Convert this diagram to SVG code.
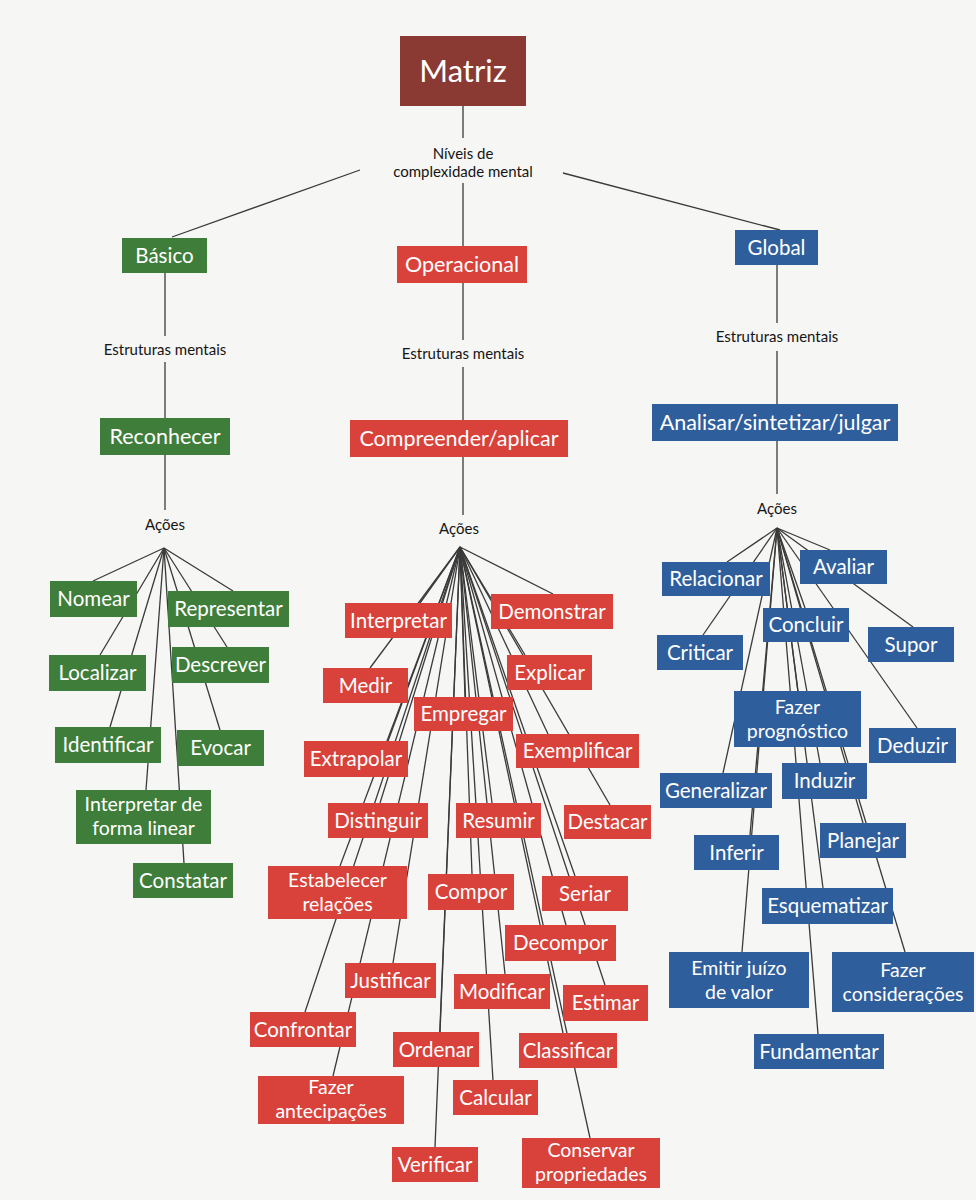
<svg xmlns="http://www.w3.org/2000/svg" width="976" height="1200" viewBox="0 0 976 1200">
<style>
.bg{fill:#f6f6f4}
.c line{stroke:#3a3a3a;stroke-width:1.3}
.g rect{fill:#3f7e3a}
.r rect{fill:#d9423b}
.b rect{fill:#2f5e9c}
.m rect{fill:#8b3a33}
.t{font-family:Lato,"Open Sans","Liberation Sans",sans-serif;font-size:20.5px;fill:#ffffff;text-anchor:middle}
.t2{font-size:19.5px}
.big{font-size:21.5px}
.l{font-family:Lato,"Open Sans","Liberation Sans",sans-serif;font-size:15px;fill:#151515;text-anchor:middle}
</style>
<rect class="bg" x="0" y="0" width="976" height="1200"/>
<g id="connectors" class="c">
<line x1="463" y1="106" x2="463" y2="138"/>
<line x1="360" y1="170" x2="172" y2="237"/>
<line x1="563" y1="173" x2="780" y2="230"/>
<line x1="463" y1="183" x2="463" y2="246"/>
<line x1="165" y1="273" x2="165" y2="336"/>
<line x1="165" y1="362" x2="165" y2="418"/>
<line x1="165" y1="455" x2="165" y2="510"/>
<line x1="463" y1="283" x2="463" y2="340"/>
<line x1="463" y1="367" x2="463" y2="420"/>
<line x1="463" y1="457" x2="463" y2="515"/>
<line x1="777" y1="265" x2="777" y2="323"/>
<line x1="777" y1="351" x2="777" y2="404"/>
<line x1="777" y1="441" x2="777" y2="494"/>
<!-- green fan -->
<line x1="164" y1="548" x2="93" y2="581"/>
<line x1="164" y1="548" x2="100" y2="655"/>
<line x1="164" y1="548" x2="110" y2="727"/>
<line x1="164" y1="548" x2="146" y2="790"/>
<line x1="164" y1="548" x2="184" y2="863"/>
<line x1="164" y1="548" x2="233" y2="591"/>
<line x1="164" y1="548" x2="227" y2="647"/>
<line x1="164" y1="548" x2="220" y2="730"/>
<!-- red fan -->
<line x1="460" y1="547" x2="420" y2="603"/>
<line x1="460" y1="547" x2="553" y2="594"/>
<line x1="460" y1="547" x2="370" y2="668"/>
<line x1="460" y1="547" x2="525" y2="655"/>
<line x1="460" y1="547" x2="465" y2="697"/>
<line x1="460" y1="547" x2="388" y2="741"/>
<line x1="460" y1="547" x2="548" y2="734"/>
<line x1="460" y1="547" x2="380" y2="803"/>
<line x1="460" y1="547" x2="492" y2="803"/>
<line x1="460" y1="547" x2="610" y2="805"/>
<line x1="460" y1="547" x2="340" y2="866"/>
<line x1="460" y1="547" x2="472" y2="874"/>
<line x1="460" y1="547" x2="575" y2="876"/>
<line x1="460" y1="547" x2="566" y2="925"/>
<line x1="460" y1="547" x2="393" y2="963"/>
<line x1="460" y1="547" x2="505" y2="974"/>
<line x1="460" y1="547" x2="605" y2="985"/>
<line x1="460" y1="547" x2="305" y2="1012"/>
<line x1="460" y1="547" x2="440" y2="1032"/>
<line x1="460" y1="547" x2="563" y2="1033"/>
<line x1="460" y1="547" x2="333" y2="1076"/>
<line x1="460" y1="547" x2="493" y2="1080"/>
<line x1="460" y1="547" x2="435" y2="1147"/>
<line x1="460" y1="547" x2="590" y2="1138"/>
<!-- blue fan -->
<line x1="777" y1="528" x2="727" y2="562"/>
<line x1="777" y1="528" x2="830" y2="550"/>
<line x1="777" y1="528" x2="703" y2="635"/>
<line x1="777" y1="528" x2="913" y2="627"/>
<line x1="777" y1="528" x2="805" y2="608"/>
<line x1="777" y1="528" x2="917" y2="728"/>
<line x1="777" y1="528" x2="798" y2="691"/>
<line x1="777" y1="528" x2="723" y2="773"/>
<line x1="777" y1="528" x2="750" y2="835"/>
<line x1="777" y1="528" x2="742" y2="952"/>
<line x1="777" y1="528" x2="820" y2="763"/>
<line x1="777" y1="528" x2="863" y2="823"/>
<line x1="777" y1="528" x2="823" y2="888"/>
<line x1="777" y1="528" x2="818" y2="1034"/>
<line x1="777" y1="528" x2="905" y2="952"/>
</g>
<g id="labels">
<text class="l" x="463" y="159"><tspan x="463">Níveis de</tspan><tspan x="463" dy="18">complexidade mental</tspan></text>
<text class="l" x="165" y="355">Estruturas mentais</text>
<text class="l" x="463" y="359">Estruturas mentais</text>
<text class="l" x="777" y="342">Estruturas mentais</text>
<text class="l" x="165" y="530">Ações</text>
<text class="l" x="459" y="534">Ações</text>
<text class="l" x="777" y="514">Ações</text>
</g>
<g id="n-matriz" class="m"><rect x="400" y="36" width="126" height="70"/><text class="t" x="463" y="82" style="font-size:31px">Matriz</text></g>
<g id="n-basico" class="g"><rect x="122" y="238" width="85" height="35"/><text class="t" x="164.5" y="262.5">Básico</text></g>
<g id="n-operacional" class="r"><rect x="397" y="246" width="130" height="37"/><text class="t big" x="462" y="272">Operacional</text></g>
<g id="n-global" class="b"><rect x="735" y="230" width="83" height="35"/><text class="t" x="776.5" y="254.5">Global</text></g>
<g id="n-reconhecer" class="g"><rect x="100" y="418" width="130" height="37"/><text class="t big" x="165" y="444">Reconhecer</text></g>
<g id="n-compreender" class="r"><rect x="350" y="420" width="218" height="37"/><text class="t big" x="459" y="446">Compreender/aplicar</text></g>
<g id="n-analisar" class="b"><rect x="652" y="404" width="246" height="37"/><text class="t big" x="775" y="430">Analisar/sintetizar/julgar</text></g>

<g id="n-nomear" class="g"><rect x="50" y="581" width="87" height="36"/><text class="t" x="93.5" y="606">Nomear</text></g>
<g id="n-representar" class="g"><rect x="168" y="591" width="121" height="36"/><text class="t" x="228.5" y="616">Representar</text></g>
<g id="n-localizar" class="g"><rect x="49" y="655" width="97" height="36"/><text class="t" x="97.5" y="680">Localizar</text></g>
<g id="n-descrever" class="g"><rect x="172" y="647" width="97" height="36"/><text class="t" x="220.5" y="672">Descrever</text></g>
<g id="n-identificar" class="g"><rect x="55" y="727" width="106" height="36"/><text class="t" x="108" y="752">Identificar</text></g>
<g id="n-evocar" class="g"><rect x="177" y="730" width="87" height="36"/><text class="t" x="220.5" y="755">Evocar</text></g>
<g id="n-interpretar-linear" class="g"><rect x="76" y="790" width="135" height="54"/><text class="t t2" x="143.5" y="811"><tspan x="143.5">Interpretar de</tspan><tspan x="143.5" dy="23.5">forma linear</tspan></text></g>
<g id="n-constatar" class="g"><rect x="133" y="863" width="100" height="35"/><text class="t" x="183" y="887.5">Constatar</text></g>

<g id="n-interpretar" class="r"><rect x="345" y="603" width="107" height="35"/><text class="t" x="398.5" y="627.5">Interpretar</text></g>
<g id="n-demonstrar" class="r"><rect x="491" y="594" width="122" height="35"/><text class="t" x="552" y="618.5">Demonstrar</text></g>
<g id="n-medir" class="r"><rect x="323" y="668" width="85" height="35"/><text class="t" x="365.5" y="692.5">Medir</text></g>
<g id="n-explicar" class="r"><rect x="507" y="655" width="85" height="35"/><text class="t" x="549.5" y="679.5">Explicar</text></g>
<g id="n-empregar" class="r"><rect x="414" y="697" width="99" height="34"/><text class="t" x="463.5" y="721">Empregar</text></g>
<g id="n-extrapolar" class="r"><rect x="304" y="741" width="104" height="36"/><text class="t" x="356" y="766">Extrapolar</text></g>
<g id="n-exemplificar" class="r"><rect x="516" y="734" width="123" height="34"/><text class="t" x="577.5" y="758">Exemplificar</text></g>
<g id="n-distinguir" class="r"><rect x="328" y="803" width="100" height="35"/><text class="t" x="378" y="827.5">Distinguir</text></g>
<g id="n-resumir" class="r"><rect x="456" y="803" width="85" height="35"/><text class="t" x="498.5" y="827.5">Resumir</text></g>
<g id="n-destacar" class="r"><rect x="564" y="805" width="87" height="34"/><text class="t" x="607.5" y="829">Destacar</text></g>
<g id="n-estabelecer" class="r"><rect x="268" y="866" width="139" height="53"/><text class="t t2" x="337.5" y="887"><tspan x="337.5">Estabelecer</tspan><tspan x="337.5" dy="23.5">relações</tspan></text></g>
<g id="n-compor" class="r"><rect x="428" y="874" width="86" height="36"/><text class="t" x="471" y="899">Compor</text></g>
<g id="n-seriar" class="r"><rect x="542" y="876" width="86" height="35"/><text class="t" x="585" y="900.5">Seriar</text></g>
<g id="n-decompor" class="r"><rect x="505" y="925" width="111" height="36"/><text class="t" x="560.5" y="950">Decompor</text></g>
<g id="n-justificar" class="r"><rect x="345" y="963" width="91" height="35"/><text class="t" x="390.5" y="987.5">Justificar</text></g>
<g id="n-modificar" class="r"><rect x="454" y="974" width="96" height="35"/><text class="t" x="502" y="998.5">Modificar</text></g>
<g id="n-estimar" class="r"><rect x="563" y="985" width="85" height="36"/><text class="t" x="605.5" y="1010">Estimar</text></g>
<g id="n-confrontar" class="r"><rect x="250" y="1012" width="106" height="35"/><text class="t" x="303" y="1036.5">Confrontar</text></g>
<g id="n-ordenar" class="r"><rect x="393" y="1032" width="86" height="35"/><text class="t" x="436" y="1056.5">Ordenar</text></g>
<g id="n-classificar" class="r"><rect x="519" y="1033" width="98" height="35"/><text class="t" x="568" y="1057.5">Classificar</text></g>
<g id="n-antecipacoes" class="r"><rect x="258" y="1076" width="146" height="48"/><text class="t t2" x="331" y="1094"><tspan x="331">Fazer</tspan><tspan x="331" dy="23.5">antecipações</tspan></text></g>
<g id="n-calcular" class="r"><rect x="453" y="1080" width="85" height="35"/><text class="t" x="495.5" y="1104.5">Calcular</text></g>
<g id="n-verificar" class="r"><rect x="392" y="1147" width="86" height="35"/><text class="t" x="435" y="1171.5">Verificar</text></g>
<g id="n-conservar" class="r"><rect x="522" y="1138" width="138" height="50"/><text class="t t2" x="591" y="1157"><tspan x="591">Conservar</tspan><tspan x="591" dy="23.5">propriedades</tspan></text></g>

<g id="n-relacionar" class="b"><rect x="662" y="562" width="108" height="34"/><text class="t" x="716" y="586">Relacionar</text></g>
<g id="n-avaliar" class="b"><rect x="800" y="550" width="87" height="34"/><text class="t" x="843.5" y="574">Avaliar</text></g>
<g id="n-concluir" class="b"><rect x="763" y="608" width="86" height="34"/><text class="t" x="806" y="632">Concluir</text></g>
<g id="n-criticar" class="b"><rect x="657" y="635" width="86" height="35"/><text class="t" x="700" y="659.5">Criticar</text></g>
<g id="n-supor" class="b"><rect x="868" y="627" width="86" height="35"/><text class="t" x="911" y="651.5">Supor</text></g>
<g id="n-prognostico" class="b"><rect x="734" y="691" width="127" height="56"/><text class="t t2" x="797.5" y="714"><tspan x="797.5">Fazer</tspan><tspan x="797.5" dy="23.5">prognóstico</tspan></text></g>
<g id="n-deduzir" class="b"><rect x="869" y="728" width="87" height="35"/><text class="t" x="912.5" y="752.5">Deduzir</text></g>
<g id="n-generalizar" class="b"><rect x="660" y="773" width="112" height="35"/><text class="t" x="716" y="797.5">Generalizar</text></g>
<g id="n-induzir" class="b"><rect x="782" y="763" width="85" height="36"/><text class="t" x="824.5" y="788">Induzir</text></g>
<g id="n-inferir" class="b"><rect x="694" y="835" width="85" height="35"/><text class="t" x="736.5" y="859.5">Inferir</text></g>
<g id="n-planejar" class="b"><rect x="820" y="823" width="86" height="35"/><text class="t" x="863" y="847.5">Planejar</text></g>
<g id="n-esquematizar" class="b"><rect x="762" y="888" width="131" height="36"/><text class="t" x="827.5" y="913">Esquematizar</text></g>
<g id="n-emitir" class="b"><rect x="669" y="952" width="140" height="56"/><text class="t t2" x="739" y="975"><tspan x="739">Emitir juízo</tspan><tspan x="739" dy="23.5">de valor</tspan></text></g>
<g id="n-consideracoes" class="b"><rect x="832" y="952" width="142" height="60"/><text class="t t2" x="903" y="977"><tspan x="903">Fazer</tspan><tspan x="903" dy="23.5">considerações</tspan></text></g>
<g id="n-fundamentar" class="b"><rect x="754" y="1034" width="130" height="35"/><text class="t" x="819" y="1058.5">Fundamentar</text></g>
</svg>
